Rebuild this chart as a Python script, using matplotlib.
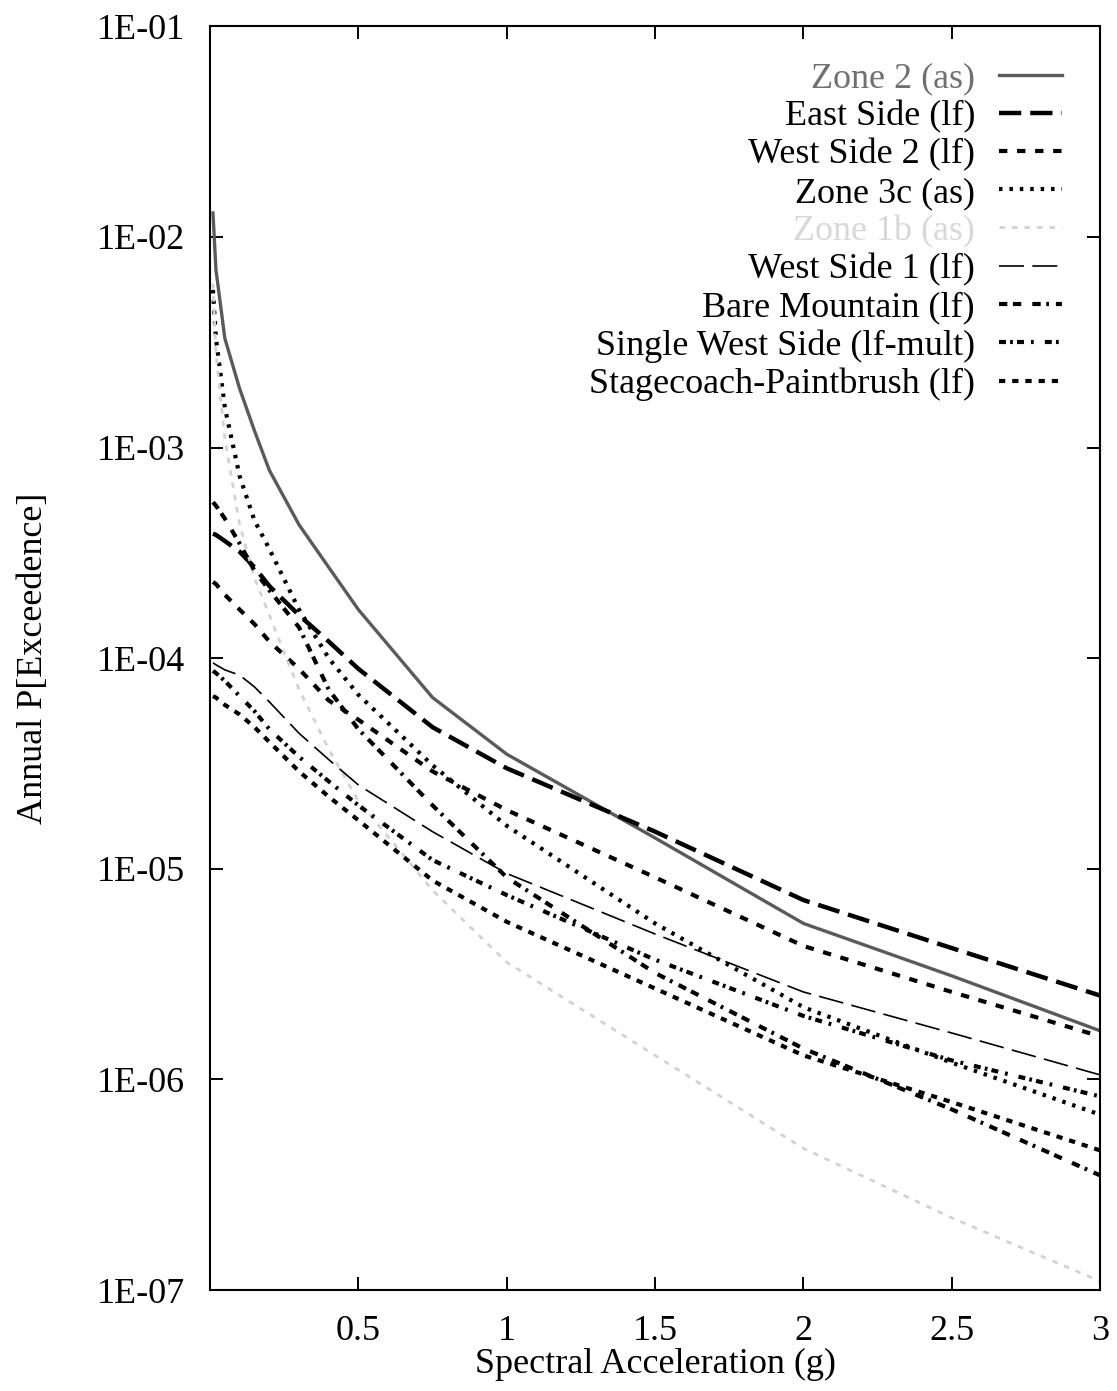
import numpy as np
import matplotlib
matplotlib.use("Agg")
import matplotlib.pyplot as plt
from matplotlib.ticker import FixedLocator, NullLocator

plt.rcParams['font.family'] = ['Liberation Serif', 'DejaVu Serif']
plt.rcParams['lines.scale_dashes'] = False

# spectral acceleration (g)
sa = [0.01, 0.02, 0.05, 0.1, 0.15, 0.2, 0.3, 0.4, 0.5, 0.75, 1.0, 1.5, 2.0, 2.5, 3.0]

zone2 = [1.3e-2, 7.0e-3, 3.3e-3, 1.9e-3, 1.2e-3, 7.8e-4, 4.3e-4, 2.7e-4, 1.7e-4, 6.5e-5, 3.5e-5, 1.4e-5, 5.5e-6, 3.1e-6, 1.7e-6]
east_side = [3.9e-4, 3.85e-4, 3.6e-4, 3.2e-4, 2.7e-4, 2.2e-4, 1.6e-4, 1.2e-4, 8.9e-5, 4.7e-5, 3.0e-5, 1.5e-5, 7.1e-6, 4.2e-6, 2.5e-6]
west_side2 = [2.3e-4, 2.25e-4, 2.0e-4, 1.7e-4, 1.45e-4, 1.2e-4, 8.9e-5, 6.3e-5, 5.1e-5, 2.9e-5, 1.9e-5, 9.1e-6, 4.3e-6, 2.6e-6, 1.6e-6]
zone3c = [5.6e-3, 3.3e-3, 1.55e-3, 7.3e-4, 4.5e-4, 3.3e-4, 1.7e-4, 1.0e-4, 6.7e-5, 3.1e-5, 1.6e-5, 5.5e-6, 2.2e-6, 1.2e-6, 6.8e-7]
zone1b = [6.0e-3, 2.8e-3, 1.1e-3, 4.3e-4, 2.4e-4, 1.6e-4, 7.1e-5, 3.7e-5, 2.1e-5, 7.9e-6, 3.6e-6, 1.3e-6, 4.7e-7, 2.2e-7, 1.1e-7]
west_side1 = [9.5e-5, 9.3e-5, 8.8e-5, 8.3e-5, 7.3e-5, 6.2e-5, 4.4e-5, 3.3e-5, 2.5e-5, 1.5e-5, 9.5e-6, 4.9e-6, 2.6e-6, 1.66e-6, 1.05e-6]
bare_mtn = [5.5e-4, 5.3e-4, 4.6e-4, 3.5e-4, 2.6e-4, 2.1e-4, 1.4e-4, 7.1e-5, 4.6e-5, 2.0e-5, 9.1e-6, 3.2e-6, 1.4e-6, 7.2e-7, 3.5e-7]
single_ws = [8.7e-5, 8.5e-5, 7.8e-5, 6.6e-5, 5.6e-5, 4.6e-5, 3.4e-5, 2.6e-5, 2.0e-5, 1.1e-5, 7.5e-6, 3.7e-6, 2.0e-6, 1.23e-6, 8.3e-7]
stagecoach = [6.6e-5, 6.5e-5, 6.0e-5, 5.4e-5, 4.7e-5, 4.0e-5, 2.9e-5, 2.2e-5, 1.7e-5, 8.8e-6, 5.6e-6, 2.7e-6, 1.3e-6, 7.8e-7, 4.6e-7]

ytick_vals = [1e-1, 1e-2, 1e-3, 1e-4, 1e-5, 1e-6, 1e-7]
ytick_labels = ['1E-01', '1E-02', '1E-03', '1E-04', '1E-05', '1E-06', '1E-07']
xtick_vals = [0.5, 1, 1.5, 2, 2.5, 3]
xtick_labels = ['0.5', '1', '1.5', '2', '2.5', '3']

fig = plt.figure(figsize=(11.17, 13.91), dpi=100)
ax = fig.add_axes([0.188, 0.0726, 0.797, 0.9085])

ax.plot(sa, zone2, color='#5a5a5a', lw=2.4, label='Zone 2 (as)')
ax.plot(sa, east_side, color='black', lw=3.2, dashes=(16, 6.5), label='East Side (lf)')
ax.plot(sa, west_side2, color='black', lw=3.0, dashes=(6, 7), label='West Side 2 (lf)')
ax.plot(sa, zone3c, color='black', lw=3.0, dashes=(2.5, 5), label='Zone 3c (as)')
ax.plot(sa, zone1b, color='#d2d2d2', lw=2.0, dashes=(4, 5), label='Zone 1b (as)')
ax.plot(sa, west_side1, color='black', lw=1.2, dashes=(18, 6), label='West Side 1 (lf)')
ax.plot(sa, bare_mtn, color='black', lw=3.0, dashes=(6, 4, 6, 8, 6, 4, 2, 5), label='Bare Mountain (lf)')
ax.plot(sa, single_ws, color='black', lw=3.0, dashes=(5, 3, 2, 3, 5, 5, 2, 8), label='Single West Side (lf-mult)')
ax.plot(sa, stagecoach, color='black', lw=3.0, dashes=(4.5, 5), label='Stagecoach-Paintbrush (lf)')

ax.set_yscale('log')
ax.set_xlim(0, 3)
ax.set_ylim(1e-7, 1e-1)
ax.yaxis.set_major_locator(FixedLocator(ytick_vals))
ax.yaxis.set_minor_locator(NullLocator())
ax.set_yticklabels(ytick_labels)
ax.xaxis.set_major_locator(FixedLocator(xtick_vals))
ax.set_xticklabels(xtick_labels)

ax.tick_params(axis='both', which='major', direction='in', length=9.5, width=1.4,
               top=True, right=True, labelsize=26, pad=18)
for sp in ax.spines.values():
    sp.set_linewidth(1.5)

ax.set_xlabel('Spectral Acceleration (g)', fontsize=26, labelpad=0)
ax.set_ylabel('Annual P[Exceedence]', fontsize=26, labelpad=34)

leg = ax.legend(loc='upper right', bbox_to_anchor=(0.973, 0.983), frameon=False,
                markerfirst=False, fontsize=26, handlelength=1.75, handletextpad=0.65,
                labelspacing=0.135, borderaxespad=0.0)
leg.get_texts()[0].set_color('#707070')
leg.get_texts()[4].set_color('#d8d8d8')

fig.savefig('out.png', dpi=100)
